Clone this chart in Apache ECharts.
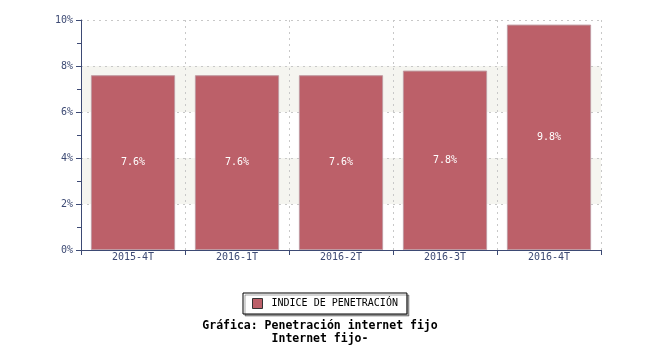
<!DOCTYPE html>
<html><head><meta charset="utf-8">
<script src="https://cdn.jsdelivr.net/npm/echarts@6/dist/echarts.min.js"></script>
<style>html,body{margin:0;padding:0;background:#fff}#c{width:650px;height:350px}</style>
</head><body><div id="c"></div>
<script>
const categories = ['2015-4T', '2016-1T', '2016-2T', '2016-3T', '2016-4T'];
const values = [7.6, 7.6, 7.6, 7.8, 9.8];
const seriesName = 'INDICE DE PENETRACIÓN';
const titleLines = ['Gráfica: Penetración internet fijo', 'Internet fijo-'];

const axisColor = '#3d4a74';
const mono = 'DejaVu Sans Mono';
const chart = echarts.init(document.getElementById('c'));
chart.setOption({
  animation: false,
  grid: { left: 81, top: 20, width: 520, height: 230, containLabel: false },
  title: {
    text: titleLines.join('\n'),
    left: 315, top: 315, textAlign: 'center',
    textStyle: { fontFamily: mono, fontWeight: 'bold', fontSize: 11.5, color: '#000', lineHeight: 13 }
  },
  legend: {
    data: [seriesName],
    left: 243, top: 293,
    padding: [5, 9, 5, 9],
    itemWidth: 10, itemHeight: 10, itemGap: 9,
    borderColor: '#000', borderWidth: 1, backgroundColor: '#fff',
    shadowColor: 'rgba(0,0,0,0.35)', shadowBlur: 0, shadowOffsetX: 2, shadowOffsetY: 2,
    textStyle: { fontFamily: mono, fontSize: 10, color: '#000', padding: [0, 0, 0, 4] },
    icon: 'rect',
    itemStyle: { borderColor: '#333', borderWidth: 1 }
  },
  xAxis: {
    type: 'category', data: categories,
    axisLine: { lineStyle: { color: axisColor, width: 1 } },
    axisTick: { show: true, length: 5, lineStyle: { color: axisColor } },
    axisLabel: { fontFamily: mono, fontSize: 10, color: axisColor, margin: 2 },
    splitLine: { show: true, interval: 0, lineStyle: { color: '#c8c8c8', type: [2, 4] } }
  },
  yAxis: {
    type: 'value', min: 0, max: 10, interval: 2,
    axisLine: { show: true, lineStyle: { color: axisColor, width: 1 } },
    axisTick: { show: true, length: 5, lineStyle: { color: axisColor } },
    minorTick: { show: true, splitNumber: 2, length: 4, lineStyle: { color: axisColor } },
    axisLabel: { fontFamily: mono, fontSize: 10, color: axisColor, margin: 8, formatter: v => v + '%' },
    splitLine: { show: true, lineStyle: { color: '#c8c8c8', type: [2, 4] } },
    splitArea: { show: true, areaStyle: { color: ['rgba(255,255,255,0)', '#f5f5f0'] } }
  },
  series: [{
    name: seriesName, type: 'bar', data: values,
    barWidth: '81%',
    itemStyle: { color: '#bc6069', borderColor: '#c09aa2', borderWidth: 1 },
    label: {
      show: true, position: 'inside',
      formatter: p => p.value.toFixed(1) + '%',
      fontFamily: mono, fontSize: 10, color: '#fff'
    }
  }]
});
</script></body></html>
